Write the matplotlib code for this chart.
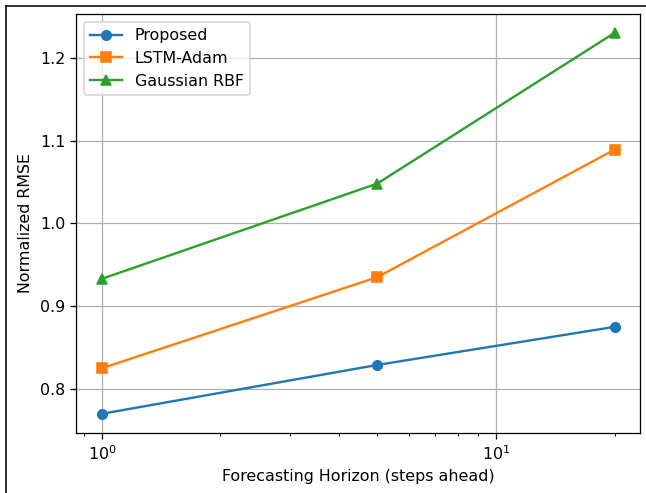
import matplotlib
matplotlib.use("Agg")
import matplotlib.pyplot as plt
from matplotlib.lines import Line2D

# ---------- data ----------
horizons = [1, 5, 20]
proposed = [0.770, 0.829, 0.875]
lstm_adam = [0.825, 0.935, 1.089]
gaussian_rbf = [0.933, 1.048, 1.230]

DPI = 114
fig = plt.figure(figsize=(646 / DPI, 493 / DPI), dpi=DPI)
ax = fig.add_axes([0.118, 0.122, 0.873, 0.850])

ax.plot(horizons, proposed, marker="o", label="Proposed")
ax.plot(horizons, lstm_adam, marker="s", label="LSTM-Adam")
ax.plot(horizons, gaussian_rbf, marker="^", label="Gaussian RBF")

ax.set_xscale("log")
ax.set_xlabel("Forecasting Horizon (steps ahead)")
ax.set_ylabel("Normalized RMSE")
ax.grid(True)
ax.legend(loc="upper left")

# screenshot frame (top and left edges)
fig.add_artist(Line2D([0.0093, 0.0093], [0, 0.988], color="black", lw=1.0))
fig.add_artist(Line2D([0.0093, 1], [0.988, 0.988], color="black", lw=1.0))

fig.savefig("out.png", dpi=DPI)
